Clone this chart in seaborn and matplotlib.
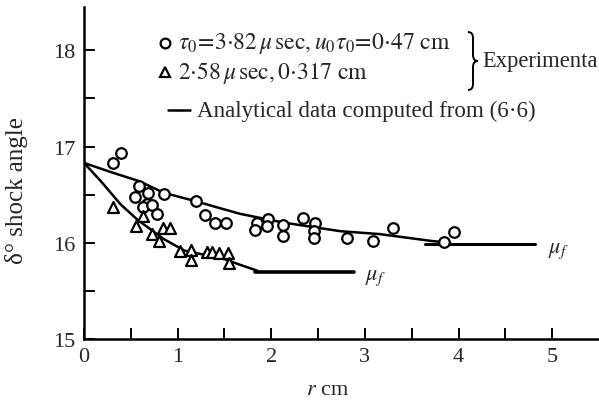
import numpy as np
import pandas as pd
import matplotlib
matplotlib.use("Agg")
import matplotlib.pyplot as plt
from matplotlib.path import Path
from matplotlib.patches import PathPatch
import seaborn as sns

# ---- data ----
circ_r = [0.31, 0.40, 0.59, 0.54, 0.68, 0.67, 0.63, 0.73, 0.78, 0.85, 1.20, 1.29, 1.40, 1.52,
          1.85, 1.83, 1.97, 1.95, 2.13, 2.12, 2.34, 2.47, 2.46, 2.46, 2.81, 3.09, 3.30, 3.84, 3.95]
circ_d = [16.83, 16.93, 16.59, 16.48, 16.52, 16.40, 16.37, 16.39, 16.30, 16.51, 16.43, 16.29, 16.21, 16.21,
          16.21, 16.13, 16.25, 16.17, 16.18, 16.07, 16.26, 16.21, 16.12, 16.05, 16.05, 16.02, 16.15, 16.01, 16.11]

tri_r = [0.315, 0.556, 0.625, 0.73, 0.80, 0.847, 0.919, 1.02, 1.14, 1.146, 1.31, 1.37, 1.44, 1.54, 1.55]
tri_d = [16.37, 16.17, 16.28, 16.09, 16.02, 16.15, 16.15, 15.91, 15.93, 15.82, 15.90, 15.90, 15.89, 15.89, 15.79]

up_r = [0.0, 0.27, 0.59, 0.85, 1.20, 1.45, 1.67, 2.13, 2.74, 3.16, 3.70, 3.91]
up_d = [16.83, 16.74, 16.64, 16.52, 16.43, 16.36, 16.30, 16.21, 16.12, 16.09, 16.02, 16.00]
up_flat_r = [3.64, 4.82]
up_flat_d = [15.99, 15.99]

lo_r = [0.0, 0.18, 0.39, 0.57, 0.85, 1.07, 1.50, 1.67, 1.85]
lo_d = [16.83, 16.64, 16.40, 16.24, 16.04, 15.92, 15.83, 15.77, 15.71]
lo_flat_r = [1.83, 2.88]
lo_flat_d = [15.70, 15.70]

x_ticks = [0, 1, 2, 3, 4, 5]
y_ticks = [15, 16, 17, 18]

# ---- style ----
sns.set_theme(style="ticks")
plt.rcParams["font.family"] = ["Liberation Serif", "DejaVu Serif"]
plt.rcParams["mathtext.fontset"] = "stix"

fig = plt.figure(figsize=(5.99, 4.10), dpi=100)
ax = fig.add_axes([84 / 599, 70 / 410, 515 / 599, 332 / 410])

lk = dict(color="black", sort=False, estimator=None, legend=False, ax=ax)
sns.lineplot(x=up_r, y=up_d, lw=1.8, **lk)
sns.lineplot(x=up_flat_r, y=up_flat_d, lw=2.2, **lk)
sns.lineplot(x=lo_r, y=lo_d, lw=1.8, **lk)
sns.lineplot(x=lo_flat_r, y=lo_flat_d, lw=2.6, **lk)

sns.scatterplot(x=circ_r, y=circ_d, marker="o", s=58, fc="white", ec="black",
                linewidth=1.6, ax=ax, legend=False, zorder=3)
sns.scatterplot(x=tri_r, y=tri_d, marker="^", s=62, fc="white", ec="black",
                linewidth=1.6, ax=ax, legend=False, zorder=3)

ax.set_xlim(0, 5.5)
ax.set_ylim(15, 18.45)
ax.set_xticks(x_ticks)
ax.set_yticks(y_ticks)
ax.set_xticks(np.arange(0.5, 5.5, 1.0), minor=True)
ax.set_yticks(np.arange(15.5, 18.0, 1.0), minor=True)
ax.tick_params(which="both", direction="in", length=8, width=1.4, color="black",
               labelsize=16, pad=6)
for s in ["top", "right"]:
    ax.spines[s].set_visible(False)
for s in ["left", "bottom"]:
    ax.spines[s].set_linewidth(1.8)
    ax.spines[s].set_color("black")

ax.set_ylabel("δ° shock angle", fontsize=18, va="center")
ax.yaxis.set_label_coords((17 - 84) / 515, (340 - 191) / 332)
ax.set_xlabel(r"$r$ cm", fontsize=16, va="center")
ax.xaxis.set_label_coords((328 - 84) / 515, (340 - 391) / 332)

# mu_f labels
ax.text(4.95, 15.92, r"$\mu_f$", fontsize=16, ha="left", va="center")
ax.text(3.00, 15.64, r"$\mu_f$", fontsize=16, ha="left", va="center")

# ---- legend (hand-placed, axes fraction) ----
def fx(px):
    return (px - 84) / 515

def fy(py):
    return (340 - py) / 332

ax.plot([fx(165)], [fy(44)], marker="o", ms=7, mfc="white", mec="black", mew=1.6,
        transform=ax.transAxes, clip_on=False)
ax.plot([fx(165)], [fy(73)], marker="^", ms=7, mfc="white", mec="black", mew=1.6,
        transform=ax.transAxes, clip_on=False)
ax.plot([fx(168), fx(190)], [fy(111), fy(111)], color="black", lw=1.8,
        transform=ax.transAxes, clip_on=False)
ax.text(fx(178), fy(44), r"$\tau_0\!=\!3{\cdot}82\,\mu\,\mathrm{sec},u_0\tau_0\!=\!0{\cdot}47\ \mathrm{cm}$",
        transform=ax.transAxes, fontsize=17, ha="left", va="center")
ax.text(fx(178), fy(73), r"$2{\cdot}58\,\mu\,\mathrm{sec},0{\cdot}317\ \mathrm{cm}$",
        transform=ax.transAxes, fontsize=17, ha="left", va="center")
ax.text(fx(197), fy(111), "Analytical data computed from (6·6)",
        transform=ax.transAxes, fontsize=16.6, ha="left", va="center")

# curly brace drawn as a thin path (figure pixels -> figure fraction)
W, H = 599.0, 410.0
bp = [(468, 33), (473, 33), (473, 39), (473, 56), (473, 62), (478, 62),
      (473, 62), (473, 68), (473, 85), (473, 91), (468, 91)]
codes = [Path.MOVETO, Path.CURVE3, Path.CURVE3, Path.LINETO, Path.CURVE3, Path.CURVE3,
         Path.CURVE3, Path.CURVE3, Path.LINETO, Path.CURVE3, Path.CURVE3]
verts = [(x / W, 1 - y / H) for x, y in bp]
fig.patches.append(PathPatch(Path(verts, codes), transform=fig.transFigure,
                             fill=False, lw=1.4, ec="black"))
ax.text(fx(482), fy(62), "Experimenta", transform=ax.transAxes, fontsize=16.3,
        ha="left", va="center", clip_on=False)

fig.savefig("out.png", dpi=100)
